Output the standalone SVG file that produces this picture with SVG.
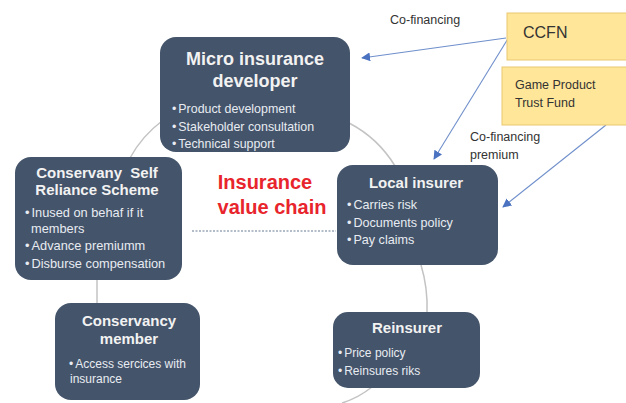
<svg xmlns="http://www.w3.org/2000/svg" width="626" height="403" viewBox="0 0 626 403">
  <defs>
    <style>
      .node { fill: #44546A; }
      .ttl { font-family: "Liberation Sans", Arial, sans-serif; font-weight: bold; fill: #F2F2F2; text-anchor: middle; }
      .bul { font-family: "Liberation Sans", Arial, sans-serif; fill: #E8ECF2; }
      .fund { fill: #FFE699; stroke: #E9C870; stroke-width: 1; }
      .lbl { font-family: "Liberation Sans", Arial, sans-serif; font-size: 12.5px; fill: #333333; }
      .ring { fill: none; stroke: #C3C3C3; stroke-width: 1.5; }
      .flow { fill: none; stroke: #6F8FCB; stroke-width: 1.1; marker-end: url(#tip); }
    </style>
    <marker id="tip" viewBox="0 0 10 10" refX="9" refY="5" markerWidth="9" markerHeight="9" markerUnits="userSpaceOnUse" orient="auto">
      <path d="M0,0 L10,5 L0,10 z" fill="#4A72C0"/>
    </marker>
  </defs>

  <rect width="626" height="403" fill="#FFFFFF"/>

  <!-- connectors: value-chain ring segments, dotted link, funding arrows -->
  <g id="connectors">
    <path class="ring" d="M162,121 Q142,136 130,158"/>
    <path class="ring" d="M349,123 Q378,138 395,166"/>
    <path class="ring" d="M421,265 Q428,288 427,313"/>
    <path class="ring" d="M372,387 Q358,398 342,403"/>
    <path class="ring" d="M97,280 L97,304"/>
    <line x1="192" y1="231" x2="336" y2="231" stroke="#9AA6B8" stroke-width="1.3" stroke-dasharray="2,1.5"/>
    <line class="flow" x1="506" y1="38" x2="362" y2="58"/>
    <line class="flow" x1="509" y1="37" x2="434" y2="159"/>
    <line class="flow" x1="606" y1="125" x2="503" y2="207"/>
  </g>

  <g id="micro-insurance-developer">
    <rect class="node" x="160" y="37" width="190" height="115" rx="16"/>
    <text class="ttl" x="255" y="65" font-size="18">Micro insurance</text>
    <text class="ttl" x="255" y="87" font-size="18">developer</text>
    <text class="bul" x="172" y="113" font-size="12.4">•<tspan dx="2">Product development</tspan></text>
    <text class="bul" x="172" y="131" font-size="12.4">•<tspan dx="2">Stakeholder consultation</tspan></text>
    <text class="bul" x="172" y="148" font-size="12.4">•<tspan dx="2">Technical support</tspan></text>
  </g>

  <g id="conservancy-self-reliance-scheme">
    <rect class="node" x="15" y="157" width="167" height="123" rx="16"/>
    <text class="ttl" x="97" y="178" font-size="15" xml:space="preserve">Conservany  Self</text>
    <text class="ttl" x="97" y="195" font-size="15">Reliance Scheme</text>
    <text class="bul" x="25" y="217" font-size="12.8">•<tspan dx="2">Inused on behaf if it</tspan></text>
    <text class="bul" x="31" y="233" font-size="12.8">members</text>
    <text class="bul" x="25" y="250" font-size="12.8">•<tspan dx="2">Advance premiumm</tspan></text>
    <text class="bul" x="25" y="268" font-size="12.8">•<tspan dx="2">Disburse compensation</tspan></text>
  </g>

  <g id="local-insurer">
    <rect class="node" x="337" y="165" width="161" height="100" rx="16"/>
    <text class="ttl" x="416" y="188" font-size="15">Local insurer</text>
    <text class="bul" x="347" y="209" font-size="12.6">•<tspan dx="2">Carries risk</tspan></text>
    <text class="bul" x="347" y="227" font-size="12.6">•<tspan dx="2">Documents policy</tspan></text>
    <text class="bul" x="347" y="244" font-size="12.6">•<tspan dx="2">Pay claims</tspan></text>
  </g>

  <g id="conservancy-member">
    <rect class="node" x="55" y="303" width="145" height="97" rx="16"/>
    <text class="ttl" x="129" y="326" font-size="15">Conservancy</text>
    <text class="ttl" x="129" y="344" font-size="15">member</text>
    <text class="bul" x="69" y="368" font-size="12">•<tspan dx="2">Access sercices with</tspan></text>
    <text class="bul" x="70" y="383" font-size="12">insurance</text>
  </g>

  <g id="reinsurer">
    <rect class="node" x="333" y="312" width="147" height="76" rx="15"/>
    <text class="ttl" x="407" y="333" font-size="15">Reinsurer</text>
    <text class="bul" x="338" y="357" font-size="12">•<tspan dx="2">Price policy</tspan></text>
    <text class="bul" x="338" y="375" font-size="12">•<tspan dx="2">Reinsures riks</tspan></text>
  </g>

  <g id="ccfn">
    <rect class="fund" x="507" y="13" width="125" height="47"/>
    <text x="523" y="38" font-family="'Liberation Sans', Arial, sans-serif" font-size="16" fill="#333333">CCFN</text>
  </g>

  <g id="game-product-trust-fund">
    <rect class="fund" x="502" y="67" width="130" height="58"/>
    <text class="lbl" x="515" y="89">Game Product</text>
    <text class="lbl" x="515" y="107">Trust Fund</text>
  </g>

  <g id="labels">
    <text class="lbl" x="390" y="24">Co-financing</text>
    <text class="lbl" x="470" y="141">Co-financing</text>
    <text class="lbl" x="470" y="159">premium</text>
    <text x="265" y="189" font-family="'Liberation Sans', Arial, sans-serif" font-size="20" font-weight="bold" fill="#E8242C" text-anchor="middle">Insurance</text>
    <text x="272" y="214" font-family="'Liberation Sans', Arial, sans-serif" font-size="20" font-weight="bold" fill="#E8242C" text-anchor="middle">value chain</text>
  </g>
</svg>
